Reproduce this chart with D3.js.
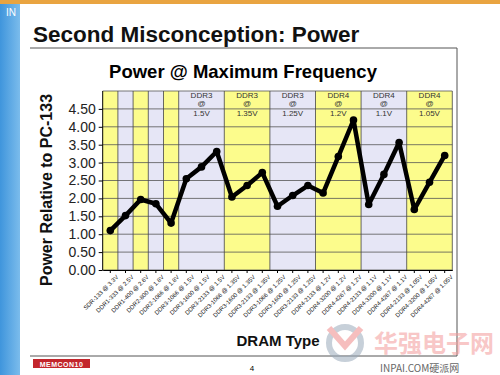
<!DOCTYPE html>
<html>
<head>
<meta charset="utf-8">
<script src="https://cdn.jsdelivr.net/npm/d3@7/dist/d3.min.js"></script>
<style>
  body { margin: 0; background: #fff; }
  svg { display: block; font-family: Arial, "Liberation Sans", sans-serif; }
</style>
</head>
<body>
<svg width="500" height="375"></svg>
<script>
var categories = [
  "SDR-133 @ 3.3V", "DDR1-333 @ 2.5V", "DDR1-400 @ 2.6V", "DDR2-800 @ 1.8V", "DDR2-1066 @ 1.8V",
  "DDR3-1066 @ 1.5V", "DDR3-1600 @ 1.5V", "DDR3-2133 @ 1.5V",
  "DDR3-1066 @ 1.35V", "DDR3-1600 @ 1.35V", "DDR3-2133 @ 1.35V",
  "DDR3-1066 @ 1.25V", "DDR3-1600 @ 1.25V", "DDR3-2133 @ 1.25V",
  "DDR4-2133 @ 1.2V", "DDR4-3200 @ 1.2V", "DDR4-4267 @ 1.2V",
  "DDR4-2133 @ 1.1V", "DDR4-3200 @ 1.1V", "DDR4-4267 @ 1.1V",
  "DDR4-2133 @ 1.05V", "DDR4-3200 @ 1.05V", "DDR4-4267 @ 1.05V"
];
var power = [1.10, 1.52, 1.97, 1.85, 1.31, 2.55, 2.88, 3.31, 2.04, 2.36, 2.72,
             1.78, 2.08, 2.36, 2.15, 3.17, 4.19, 1.83, 2.67, 3.56, 1.69, 2.45, 3.20];

var bandSizes = [1, 1, 1, 1, 1, 3, 3, 3, 3, 3, 3];
var bandTypes = ["", "", "", "", "", "DDR3", "DDR3", "DDR3", "DDR4", "DDR4", "DDR4"];
var bandVolts = ["", "", "", "", "", "1.5V", "1.35V", "1.25V", "1.2V", "1.1V", "1.05V"];
var yTicks = [0, 0.5, 1, 1.5, 2, 2.5, 3, 3.5, 4, 4.5];

var svg = d3.select("svg");

// slide decoration
svg.append("rect").attr("x", 0).attr("y", 0).attr("width", 500).attr("height", 4).attr("fill", "#e9a441");
var grad = svg.append("defs").append("linearGradient").attr("id", "side")
    .attr("x1", 0).attr("x2", 1).attr("y1", 0).attr("y2", 0);
grad.append("stop").attr("offset", "0%").attr("stop-color", "#3f95dc");
grad.append("stop").attr("offset", "100%").attr("stop-color", "#7bbcec");
svg.append("rect").attr("x", 0).attr("y", 4).attr("width", 20).attr("height", 371).attr("fill", "url(#side)");
svg.append("text").attr("x", 6).attr("y", 16).attr("fill", "#fff").attr("font-size", 10).text("IN");

svg.append("text").attr("x", 33).attr("y", 42)
    .attr("font-size", 22.5).attr("font-weight", "bold").attr("fill", "#111")
    .text("Second Misconception: Power");

// chart frame
svg.append("path").attr("d", "M30,48H457V356H30").attr("fill", "none").attr("stroke", "#555").attr("stroke-width", 1);

svg.append("text").attr("x", 243).attr("y", 78).attr("text-anchor", "middle")
    .attr("font-size", 18.5).attr("font-weight", "bold").text("Power @ Maximum Frequency");

var plotL = 102.7, plotR = 452.3, plotT = 91, plotB = 270;

var x = d3.scaleBand().domain(categories).range([plotL, plotR]);
var y = d3.scaleLinear().domain([0, 5]).range([plotB, plotT]);

// bands
var start = 0;
var bands = bandSizes.map(function(n, i) {
  var b = {from: categories[start], to: categories[start + n - 1], type: bandTypes[i], volt: bandVolts[i], i: i};
  start += n;
  return b;
});

var g = svg.append("g");
g.selectAll(".band").data(bands).enter().append("rect")
    .attr("x", function(d) { return x(d.from); })
    .attr("y", plotT)
    .attr("width", function(d) { return x(d.to) + x.bandwidth() - x(d.from); })
    .attr("height", plotB - plotT)
    .attr("fill", function(d) { return d.i % 2 ? "#e6e6f6" : "#fcfc8c"; });

// gridlines
g.selectAll(".hgrid").data(yTicks.concat([5])).enter().append("line")
    .attr("x1", plotL).attr("x2", plotR)
    .attr("y1", function(d) { return y(d); }).attr("y2", function(d) { return y(d); })
    .attr("stroke", "#555").attr("stroke-width", 0.8);
g.selectAll(".vgrid").data(bands).enter().append("line")
    .attr("x1", function(d) { return x(d.to) + x.bandwidth(); })
    .attr("x2", function(d) { return x(d.to) + x.bandwidth(); })
    .attr("y1", plotT).attr("y2", plotB)
    .attr("stroke", "#444").attr("stroke-width", 0.8);

// band headers
var hdr = g.selectAll(".hdr").data(bands.filter(function(d) { return d.type; })).enter().append("g")
    .attr("transform", function(d) {
      return "translate(" + ((x(d.from) + x(d.to) + x.bandwidth()) / 2) + ",0)";
    })
    .attr("font-size", 8).attr("fill", "#333").attr("text-anchor", "middle");
hdr.append("text").attr("y", 98).text(function(d) { return d.type; });
hdr.append("text").attr("y", 106).text("@");
hdr.append("text").attr("y", 116).text(function(d) { return d.volt; });

// axes
var yAxis = svg.append("g")
    .attr("transform", "translate(" + plotL + ",0)")
    .call(d3.axisLeft(y).tickValues(yTicks).tickFormat(d3.format(".2f")).tickSize(4).tickPadding(3));
yAxis.select(".domain").attr("stroke", "#000").attr("d", "M0," + plotT + "V" + plotB);
yAxis.selectAll("text").attr("font-size", 14).attr("fill", "#222").attr("font-family", "Arial, Liberation Sans, sans-serif");

var xAxis = svg.append("g")
    .attr("transform", "translate(0," + plotB + ")")
    .call(d3.axisBottom(x).tickSize(3).tickSizeOuter(0));
xAxis.select(".domain").attr("stroke", "#000");
xAxis.selectAll("text")
    .attr("font-size", 6).attr("fill", "#111")
    .attr("text-anchor", "end")
    .attr("dy", "0.3em").attr("dx", "0")
    .attr("transform", "translate(3,2) rotate(-45)")
    .attr("font-family", "Arial, Liberation Sans, sans-serif");

svg.append("text")
    .attr("transform", "translate(52,190) rotate(-90)")
    .attr("text-anchor", "middle").attr("font-size", 16).attr("font-weight", "bold").attr("fill", "#111")
    .text("Power Relative to PC-133");

svg.append("text").attr("x", 278).attr("y", 346).attr("text-anchor", "middle")
    .attr("font-size", 15).attr("font-weight", "bold").attr("fill", "#111").text("DRAM Type");

// series
var line = d3.line()
    .x(function(d, i) { return x(categories[i]) + x.bandwidth() / 2; })
    .y(function(d) { return y(d); });

svg.append("path").datum(power)
    .attr("fill", "none").attr("stroke", "#000").attr("stroke-width", 4.5)
    .attr("stroke-linejoin", "round").attr("d", line);
svg.selectAll(".dot").data(power).enter().append("circle")
    .attr("cx", function(d, i) { return x(categories[i]) + x.bandwidth() / 2; })
    .attr("cy", function(d) { return y(d); })
    .attr("r", 3.8).attr("fill", "#000");

// footer
svg.append("rect").attr("x", 33).attr("y", 359).attr("width", 57).attr("height", 9).attr("fill", "#c3262c");
svg.append("text").attr("x", 61.5).attr("y", 366.5).attr("text-anchor", "middle")
    .attr("font-size", 7).attr("font-weight", "bold").attr("fill", "#fff").attr("letter-spacing", 0.5).text("MEMCON10");
svg.append("text").attr("x", 252).attr("y", 371).attr("text-anchor", "middle").attr("font-size", 8).text("4");

// watermark
var wm = svg.append("g").attr("opacity", 0.55);
wm.append("circle").attr("cx", 345).attr("cy", 343).attr("r", 16).attr("fill", "none").attr("stroke", "#9aaabb").attr("stroke-width", 6);
wm.append("path").attr("d", "M329,328 L345,346 L361,328").attr("fill", "none").attr("stroke", "#f08a8a").attr("stroke-width", 6);
wm.append("text").attr("x", 374).attr("y", 352).attr("font-size", 24).attr("font-weight", "bold")
    .attr("fill", "#f49a9a").attr("font-family", "Noto Sans CJK SC").text("华强电子网");
svg.append("text").attr("x", 380).attr("y", 372).attr("font-size", 10).attr("fill", "#666")
    .attr("font-family", "Noto Sans CJK SC").text("INPAI.COM硬派网");
</script>
</body>
</html>
